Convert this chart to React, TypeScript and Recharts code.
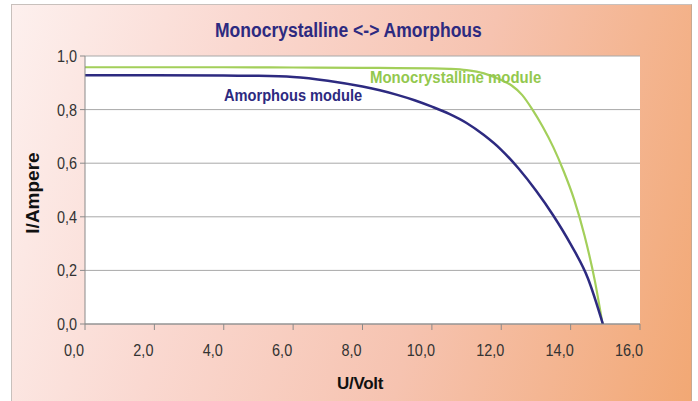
import React from 'react';
import { LineChart, Line, XAxis, YAxis, CartesianGrid } from 'recharts';

// U/Volt ticks and I/Ampere ticks
const voltTicks = [0, 2, 4, 6, 8, 10, 12, 14, 16];
const ampTicks = [0, 0.2, 0.4, 0.6, 0.8, 1.0];

// Monocrystalline module I-V curve
const monoU = [0, 2, 4, 6, 8, 9, 10, 10.5, 11, 11.5, 12, 12.3, 12.6, 12.9, 13.2, 13.5, 13.8, 14.1, 14.4, 14.7, 14.92];
const monoI = [0.958, 0.958, 0.958, 0.957, 0.956, 0.955, 0.954, 0.952, 0.947, 0.935, 0.91, 0.89, 0.855, 0.8, 0.735, 0.66, 0.57, 0.465, 0.33, 0.16, 0.0];

// Amorphous module I-V curve
const amorphU = [0, 2, 4, 5, 6, 7, 8, 8.5, 9, 9.5, 10, 10.5, 11, 11.5, 12, 12.5, 13, 13.5, 14, 14.5, 14.93];
const amorphI = [0.928, 0.928, 0.927, 0.926, 0.922, 0.908, 0.886, 0.872, 0.855, 0.835, 0.811, 0.784, 0.75, 0.705, 0.65, 0.58, 0.498, 0.405, 0.298, 0.17, 0.0];

const monoData = monoU.map((u, k) => ({ u, i: monoI[k] }));
const amorphData = amorphU.map((u, k) => ({ u, i: amorphI[k] }));

const fmt = (v: number) => v.toFixed(1).replace('.', ',');

const SANS = "'Liberation Sans', Arial, sans-serif";
const NAVY = '#2d2a80';
const GREEN = '#a3cf5a';

// narrow-looking tick labels (no condensed font installed, so squeeze horizontally)
const XTick = (props: any) => {
  const { x, y, payload } = props;
  return (
    <g transform={`translate(${x - 11},${y})`}>
      <text transform="scale(0.85,1)" textAnchor="middle" dy="0.71em" fill="#333333" fontSize={17} fontFamily={SANS}>
        {fmt(payload.value)}
      </text>
    </g>
  );
};

const YTick = (props: any) => {
  const { x, y, payload } = props;
  return (
    <g transform={`translate(${x},${y})`}>
      <text transform="scale(0.85,1)" textAnchor="end" dy="0.355em" fill="#333333" fontSize={17} fontFamily={SANS}>
        {fmt(payload.value)}
      </text>
    </g>
  );
};

const squeeze = (sx: number): React.CSSProperties => ({
  transform: `scaleX(${sx})`,
  transformOrigin: 'left center',
  whiteSpace: 'nowrap',
});

const App: React.FC = () => {
  return (
    <div style={{ position: 'fixed', left: 0, top: 0, width: 698, height: 401, background: '#ffffff', overflow: 'hidden' }}>
      <div
        style={{
          position: 'absolute',
          left: 11,
          top: 4,
          width: 681,
          height: 397,
          boxSizing: 'border-box',
          borderLeft: '1px solid #c8c0bc',
          borderTop: '1px solid #c8c0bc',
          borderRight: '1px solid #c8a890',
          background: 'linear-gradient(105deg, #fdf0ee 0%, #fad8d0 30%, #f6c3b0 62%, #f2a874 100%)',
        }}
      />
      <div style={{ position: 'absolute', left: 0, top: 0 }}>
        <LineChart width={698} height={401} margin={{ top: 56, right: 58, bottom: 37, left: 40 }}>
          <CartesianGrid vertical={false} stroke="#a8a8a8" fill="#ffffff" fillOpacity={1} />
          <XAxis
            type="number"
            dataKey="u"
            domain={[0, 16]}
            ticks={voltTicks}
            allowDataOverflow
            height={40}
            stroke="#8a8a8a"
            tickSize={6}
            tickMargin={14}
            tick={<XTick />}
          />
          <YAxis
            type="number"
            domain={[0, 1]}
            ticks={ampTicks}
            allowDataOverflow
            width={45}
            stroke="#8a8a8a"
            tickSize={5}
            tickMargin={3}
            tick={<YTick />}
          />
          <Line
            data={monoData}
            dataKey="i"
            type="monotone"
            stroke={GREEN}
            strokeWidth={2.2}
            dot={false}
            activeDot={false}
            isAnimationActive={false}
          />
          <Line
            data={amorphData}
            dataKey="i"
            type="monotone"
            stroke={NAVY}
            strokeWidth={2.5}
            dot={false}
            activeDot={false}
            isAnimationActive={false}
          />
        </LineChart>
      </div>
      <div style={{ position: 'absolute', left: 215, top: 19, width: 320 }}>
        <div style={{ ...squeeze(0.875), fontFamily: SANS, fontWeight: 'bold', fontSize: 20, lineHeight: '22px', color: NAVY }}>
          Monocrystalline &lt;-&gt; Amorphous
        </div>
      </div>
      <div style={{ position: 'absolute', left: 370, top: 69, width: 220 }}>
        <div style={{ ...squeeze(0.88), fontFamily: SANS, fontWeight: 'bold', fontSize: 17, lineHeight: '18px', color: '#93c84e' }}>
          Monocrystalline module
        </div>
      </div>
      <div style={{ position: 'absolute', left: 224, top: 87, width: 180 }}>
        <div style={{ ...squeeze(0.86), fontFamily: SANS, fontWeight: 'bold', fontSize: 17, lineHeight: '18px', color: NAVY }}>
          Amorphous module
        </div>
      </div>
      <div
        style={{
          position: 'absolute',
          left: 33,
          top: 193,
          transform: 'translate(-50%, -50%) rotate(-90deg)',
          fontFamily: SANS,
          fontWeight: 'bold',
          fontSize: 19,
          color: '#111111',
          whiteSpace: 'nowrap',
        }}
      >
        I/Ampere
      </div>
      <div
        style={{
          position: 'absolute',
          left: 360,
          top: 384,
          transform: 'translate(-50%, -50%)',
          fontFamily: SANS,
          fontWeight: 'bold',
          fontSize: 17,
          color: '#111111',
          whiteSpace: 'nowrap',
          letterSpacing: -0.3,
        }}
      >
        U/Volt
      </div>
    </div>
  );
};

export default App;
